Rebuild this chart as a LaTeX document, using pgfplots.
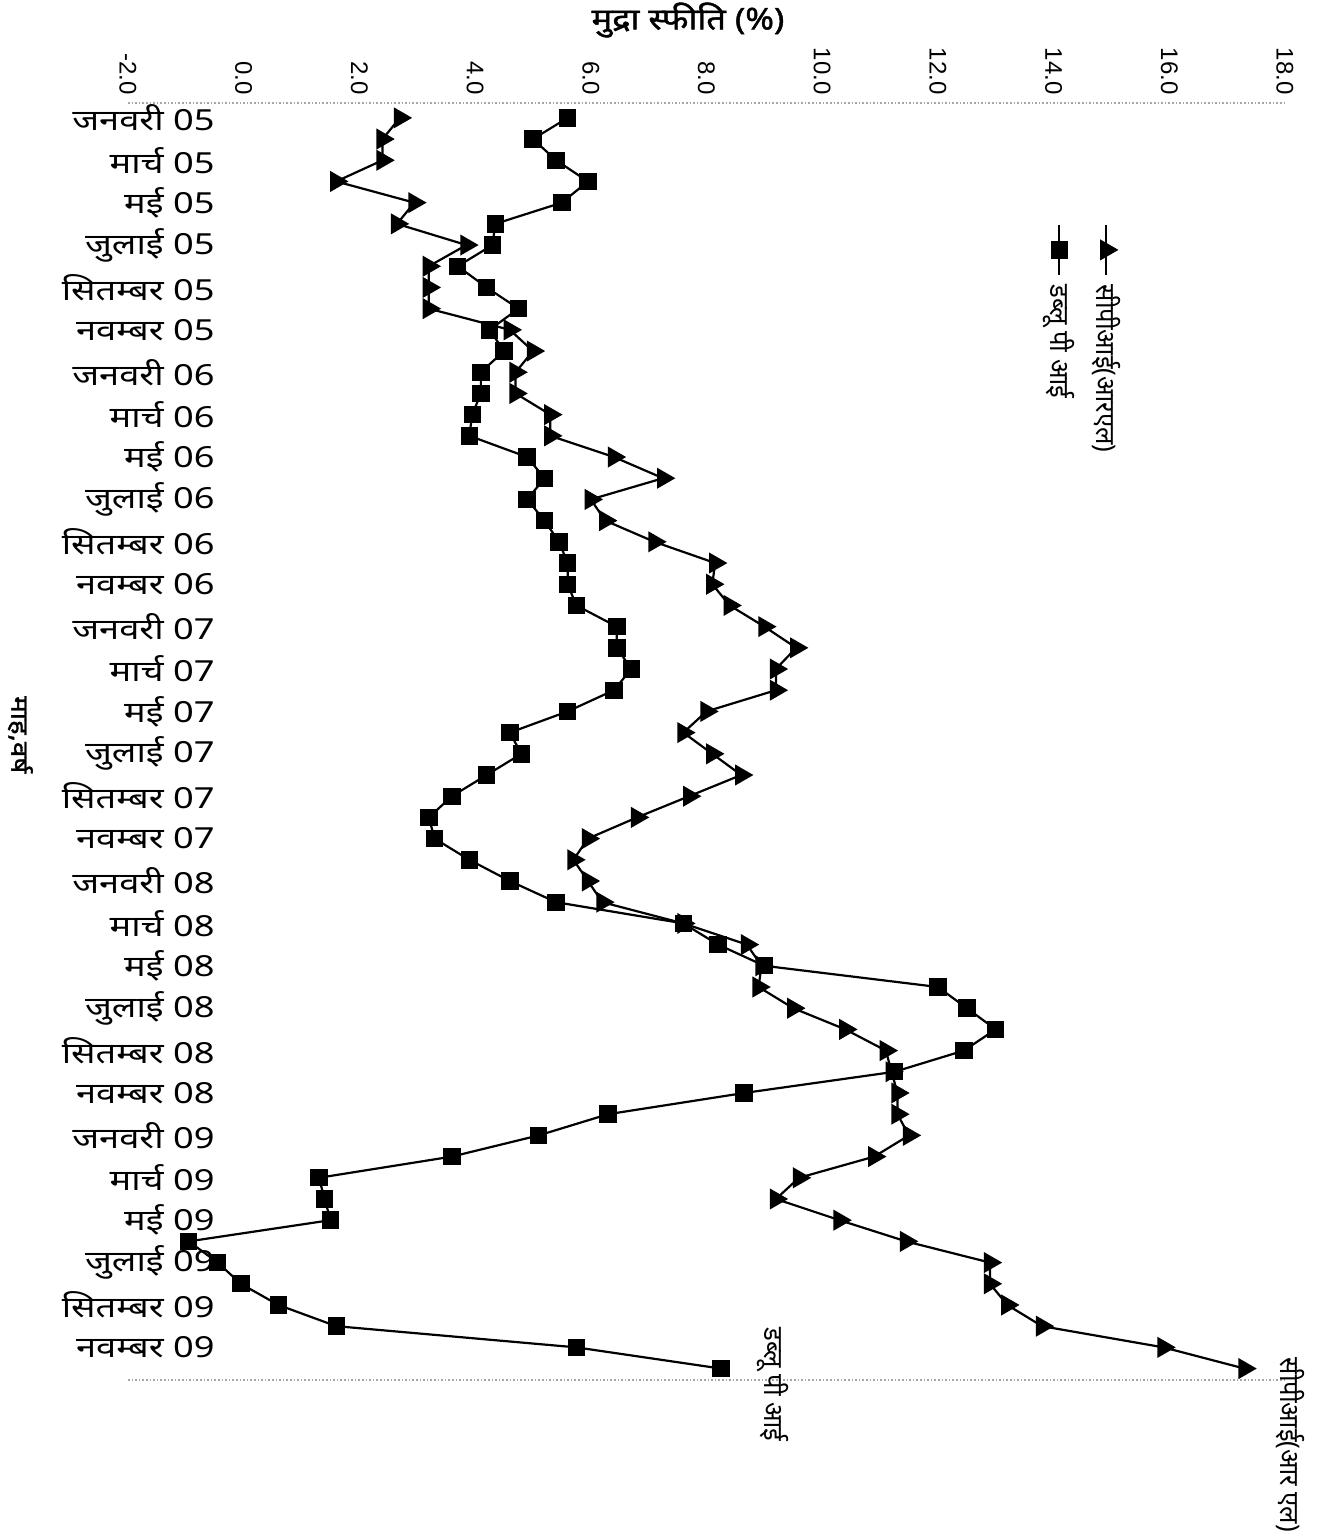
\documentclass[border=0pt]{standalone}
\usepackage{fontspec}
\setmainfont{Noto Sans}[Script=Devanagari]
\newfontfamily\devwide{Noto Sans}[Script=Devanagari, FakeStretch=1.25]
\newfontfamily\devbold{Noto Sans}[Script=Devanagari, FakeBold=1.5, FakeStretch=1.15]
\newfontfamily\devcond{Noto Sans}[Script=Devanagari, FakeStretch=0.95]
\newfontfamily\lat{Liberation Sans}
\usepackage{pgfplots}
\pgfplotsset{compat=1.18}
\begin{document}
\begin{tikzpicture}
\begin{axis}[
  at={(0,0)}, anchor=south west,
  scale only axis, width=578.5pt, height=638.5pt,
  xmin=-2, xmax=18, ymin=-0.7, ymax=59.54, y dir=reverse,
  clip=false,
  separate axis lines,
  x axis line style={gray!70, densely dotted, line width=0.8pt},
  y axis line style={draw=none},
  major tick length=0pt,
  xtick={-2,0,...,18},
  xticklabels={-2.0,0.0,2.0,4.0,6.0,8.0,10.0,12.0,14.0,16.0,18.0},
  xticklabel pos=upper,
  xticklabel style={font=\lat\fontsize{12}{14}\selectfont, rotate=-90, anchor=east, inner sep=0pt},
  xticklabel shift=4pt,
  xlabel={मुद्रा स्फीति (\%)},
  xlabel style={font=\devbold\fontsize{15}{17}\selectfont, at={(axis description cs:0.484,1.065)}, anchor=center},
  ytick={0,2,...,58},
  yticklabels={जनवरी 05,मार्च 05,मई 05,जुलाई 05,सितम्बर 05,नवम्बर 05,
               जनवरी 06,मार्च 06,मई 06,जुलाई 06,सितम्बर 06,नवम्बर 06,
               जनवरी 07,मार्च 07,मई 07,जुलाई 07,सितम्बर 07,नवम्बर 07,
               जनवरी 08,मार्च 08,मई 08,जुलाई 08,सितम्बर 08,नवम्बर 08,
               जनवरी 09,मार्च 09,मई 09,जुलाई 09,सितम्बर 09,नवम्बर 09},
  yticklabel style={font=\devwide\fontsize{14.5}{16}\selectfont, anchor=east, inner sep=0pt, xshift=43.5pt},
]
% data: CPI (RL)
\addplot[black, line width=1.1pt, mark=triangle*, mark size=5pt,
         mark options={rotate=-90, fill=black}] coordinates {
(2.7,0)(2.4,1)(2.4,2)(1.6,3)(2.95,4)(2.65,5)(3.85,6)(3.2,7)(3.2,8)(3.2,9)
(4.6,10)(5.0,11)(4.7,12)(4.7,13)(5.3,14)(5.3,15)(6.4,16)(7.25,17)(6.0,18)(6.25,19)
(7.1,20)(8.15,21)(8.1,22)(8.4,23)(9.0,24)(9.55,25)(9.2,26)(9.2,27)(8.0,28)(7.6,29)
(8.1,30)(8.6,31)(7.7,32)(6.8,33)(5.95,34)(5.7,35)(5.95,36)(6.2,37)(7.6,38)(8.7,39)
(8.95,40)(8.9,41)(9.5,42)(10.4,43)(11.1,44)(11.2,45)(11.3,46)(11.3,47)(11.5,48)(10.9,49)
(9.6,50)(9.2,51)(10.3,52)(11.45,53)(12.9,54)(12.9,55)(13.2,56)(13.8,57)(15.9,58)(17.3,59)
};
% data: WPI
\addplot[black, line width=1.1pt, mark=square*, mark size=3.8pt,
         mark options={fill=black}] coordinates {
(5.6,0)(5.0,1)(5.4,2)(5.95,3)(5.5,4)(4.35,5)(4.3,6)(3.7,7)(4.2,8)(4.75,9)
(4.25,10)(4.5,11)(4.1,12)(4.1,13)(3.95,14)(3.9,15)(4.9,16)(5.2,17)(4.9,18)(5.2,19)
(5.45,20)(5.6,21)(5.6,22)(5.75,23)(6.45,24)(6.45,25)(6.7,26)(6.4,27)(5.6,28)(4.6,29)
(4.8,30)(4.2,31)(3.6,32)(3.2,33)(3.3,34)(3.9,35)(4.6,36)(5.4,37)(7.6,38)(8.2,39)
(9.0,40)(12.0,41)(12.5,42)(13.0,43)(12.45,44)(11.25,45)(8.65,46)(6.3,47)(5.1,48)(3.6,49)
(1.3,50)(1.4,51)(1.5,52)(-0.95,53)(-0.45,54)(-0.05,55)(0.6,56)(1.6,57)(5.75,58)(8.25,59)
};
% legend samples (rotated legend, drawn in axis units)
\addplot[black, line width=1.1pt, mark=triangle*, mark size=5pt, mark indices={2},
         mark options={rotate=-90, fill=black}] coordinates {(14.91,5.05)(14.91,6.23)(14.91,7.4)};
\addplot[black, line width=1.1pt, mark=square*, mark size=3.8pt, mark indices={2},
         mark options={fill=black}] coordinates {(14.1,5.05)(14.1,6.23)(14.1,7.4)};
\node[rotate=-90, anchor=west, inner sep=0pt, font=\devcond\fontsize{13.5}{15}\selectfont] at (axis cs:14.91,7.85) {सीपीआई(आरएल)};
\node[rotate=-90, anchor=west, inner sep=0pt, font=\devcond\fontsize{13.5}{15}\selectfont] at (axis cs:14.1,7.85) {डब्लू पी आई};

\node[rotate=-90, font=\devcond\fontsize{13.5}{15}\selectfont] at (axis cs:9.14,59.76) {डब्लू पी आई};
\node[rotate=-90, font=\devcond\fontsize{13.5}{15}\selectfont] at (axis cs:18.1,62.6) {सीपीआई(आर एल)};
\node[rotate=-90, font=\devbold\fontsize{12}{14}\selectfont] at (axis cs:-3.86,29.1) {माह,वर्ष};
\end{axis}
\pgfresetboundingbox
\path[use as bounding box] (-64pt,-79pt) rectangle (596.5pt,690pt);
\end{tikzpicture}
\end{document}
